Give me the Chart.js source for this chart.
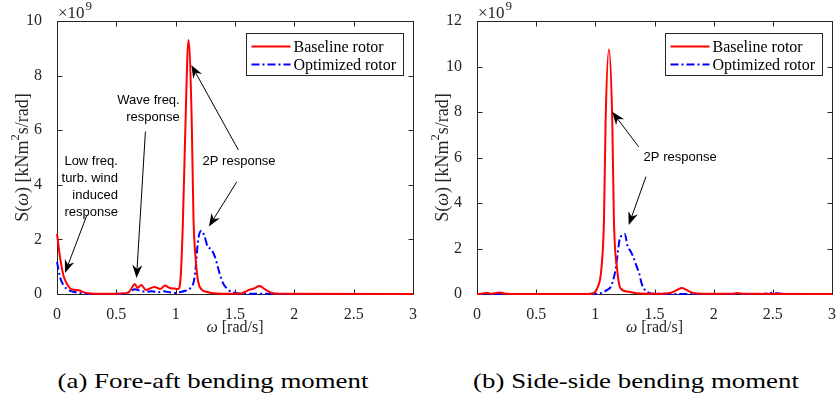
<!DOCTYPE html>
<html>
<head>
<meta charset="utf-8">
<script src="https://cdn.jsdelivr.net/npm/chart.js@4.4.0/dist/chart.umd.min.js"></script>
<style>
html, body { margin: 0; padding: 0; background: #fff; }
body { width: 839px; height: 400px; position: relative; overflow: hidden; }
.panel { position: absolute; top: 0; height: 340px; }
#panelA { left: 0; width: 420px; }
#panelB { left: 420px; width: 419px; }
.caption { position: absolute; top: 368px; font-family: "Liberation Serif", serif; font-size: 22px; color: #000; white-space: nowrap; transform: translateX(-50%) scaleX(1.22); }
</style>
</head>
<body>
<div class="panel" id="panelA"><canvas id="chartA"></canvas></div>
<div class="panel" id="panelB"><canvas id="chartB"></canvas></div>
<div class="caption" style="left:213px">(a) Fore-aft bending moment</div>
<div class="caption" style="left:636px">(b) Side-side bending moment</div>
<script>
// spectra, values in 1e9 kNm^2 s/rad
var seriesNames = ["Baseline rotor", "Optimized rotor"];

var foreAftBaseW = [0, 0.025, 0.053, 0.08, 0.12, 0.19, 0.22, 0.28, 0.35, 0.5, 0.6, 0.63, 0.655, 0.68, 0.71, 0.75, 0.82, 0.87, 0.91, 0.95, 0.99, 1.02, 1.04, 1.06, 1.08, 1.108, 1.135, 1.15, 1.17, 1.19, 1.22, 1.26, 1.3, 1.4, 1.55, 1.62, 1.66, 1.706, 1.76, 1.82, 1.9, 3.0];
var foreAftBaseS = [2.2, 1.37, 0.7, 0.4, 0.18, 0.13, 0.07, 0.02, 0.01, 0.01, 0.05, 0.22, 0.37, 0.22, 0.33, 0.15, 0.26, 0.18, 0.31, 0.22, 0.2, 0.18, 0.5, 2.5, 5.8, 9.3, 6.4, 2.8, 1.2, 0.45, 0.16, 0.08, 0.04, 0.01, 0.02, 0.15, 0.2, 0.29, 0.15, 0.03, 0.01, 0.0];

var foreAftOptW = [0, 0.025, 0.053, 0.095, 0.15, 0.2, 0.25, 0.3, 0.55, 0.61, 0.655, 0.7, 0.75, 0.8, 0.85, 0.9, 0.95, 1.0, 1.05, 1.08, 1.12, 1.16, 1.19, 1.216, 1.244, 1.27, 1.3, 1.33, 1.355, 1.37, 1.4, 1.43, 1.47, 1.55, 3.0];
var foreAftOptS = [1.18, 0.63, 0.33, 0.15, 0.07, 0.03, 0.01, 0.0, 0.01, 0.07, 0.17, 0.12, 0.08, 0.1, 0.06, 0.1, 0.06, 0.04, 0.08, 0.12, 0.2, 0.62, 2.0, 2.32, 2.1, 1.73, 1.64, 1.37, 1.0, 0.76, 0.39, 0.21, 0.08, 0.01, 0.0];

var sideBaseW = [0, 0.05, 0.08, 0.12, 0.17, 0.2, 0.23, 0.3, 0.95, 0.99, 1.02, 1.05, 1.073, 1.087, 1.115, 1.143, 1.157, 1.185, 1.213, 1.28, 1.35, 1.5, 1.6, 1.65, 1.7, 1.73, 1.77, 1.82, 1.9, 2.15, 2.2, 2.25, 3.0];
var sideBaseS = [0.0, 0.02, 0.06, 0.01, 0.05, 0.07, 0.02, 0.0, 0.0, 0.05, 0.3, 1.05, 3.25, 7.65, 10.75, 7.65, 3.25, 1.05, 0.25, 0.1, 0.03, 0.01, 0.02, 0.08, 0.2, 0.26, 0.18, 0.06, 0.01, 0.01, 0.04, 0.01, 0.0];

var sideOptW = [0, 0.5, 1.0, 1.05, 1.1, 1.13, 1.17, 1.2, 1.21, 1.235, 1.25, 1.27, 1.3, 1.32, 1.35, 1.37, 1.39, 1.42, 1.46, 1.5, 2.4, 2.5, 2.6, 3.0];
var sideOptS = [0, 0, 0.01, 0.05, 0.18, 0.32, 1.05, 2.24, 2.52, 2.56, 2.64, 2.15, 1.86, 1.64, 1.2, 0.92, 0.48, 0.17, 0.04, 0.01, 0.0, 0.05, 0.0, 0.0];

var foreAftYTicks = [0, 2, 4, 6, 8, 10];
var sideYTicks = [0, 2, 4, 6, 8, 10, 12];
var omegaMax = 3;

var frameColor = "#262626";
var serif = '"Liberation Serif", "Times New Roman", serif';
var sans = '"Liberation Sans", Arial, sans-serif';

function toPoints(w, s) {
  var pts = [];
  for (var i = 0; i < w.length; i++) pts.push({ x: w[i], y: s[i] });
  return pts;
}

// text with italic / superscript pieces, centered on (0,0) of the current transform
function drawRich(ctx, parts, size) {
  var total = 0, i;
  for (i = 0; i < parts.length; i++) {
    ctx.font = (parts[i].it ? "italic " : "") + (parts[i].sup ? size * 0.7 : size) + "px " + serif;
    parts[i].w = ctx.measureText(parts[i].t).width;
    total += parts[i].w;
  }
  var x = -total / 2;
  ctx.textAlign = "left";
  ctx.textBaseline = "middle";
  for (i = 0; i < parts.length; i++) {
    ctx.font = (parts[i].it ? "italic " : "") + (parts[i].sup ? size * 0.7 : size) + "px " + serif;
    ctx.fillText(parts[i].t, x, parts[i].sup ? -size * 0.38 : 0);
    x += parts[i].w;
  }
}

function drawArrow(ctx, x1, y1, x2, y2) {
  var ang = Math.atan2(y2 - y1, x2 - x1);
  var c = Math.cos(ang), s = Math.sin(ang);
  var len = 13, half = 5, notch = 9;
  ctx.beginPath();
  ctx.moveTo(x1, y1);
  ctx.lineTo(x2 - c * notch, y2 - s * notch);
  ctx.stroke();
  ctx.beginPath();
  ctx.moveTo(x2, y2);
  ctx.lineTo(x2 - c * len - s * half, y2 - s * len + c * half);
  ctx.lineTo(x2 - c * notch, y2 - s * notch);
  ctx.lineTo(x2 - c * len + s * half, y2 - s * len - c * half);
  ctx.closePath();
  ctx.fill();
}

function makeDecor(notes, arrows) {
  return {
    id: "decor",
    beforeDatasetsDraw: function(chart) {
      var ctx = chart.ctx, a = chart.chartArea, xs = chart.scales.x, ys = chart.scales.y;
      var l = Math.round(a.left) + 0.5, t = Math.round(a.top) + 0.5;
      var r = Math.round(a.right) + 0.5, b = Math.round(a.bottom) + 0.5;
      ctx.save();
      ctx.strokeStyle = frameColor;
      ctx.lineWidth = 1;
      ctx.strokeRect(l, t, r - l, b - t);
      ctx.beginPath();
      xs.ticks.forEach(function(tk) {
        var px = Math.round(xs.getPixelForValue(tk.value)) + 0.5;
        ctx.moveTo(px, b); ctx.lineTo(px, b - 5);
        ctx.moveTo(px, t); ctx.lineTo(px, t + 5);
      });
      ys.ticks.forEach(function(tk) {
        var py = Math.round(ys.getPixelForValue(tk.value)) + 0.5;
        ctx.moveTo(l, py); ctx.lineTo(l + 5, py);
        ctx.moveTo(r, py); ctx.lineTo(r - 5, py);
      });
      ctx.stroke();

      // axis titles and exponent
      ctx.fillStyle = frameColor;
      ctx.save();
      ctx.translate(23, (a.top + a.bottom) / 2);
      ctx.rotate(-Math.PI / 2);
      drawRich(ctx, [{ t: "S(" }, { t: "ω", it: true }, { t: ") [kNm" }, { t: "2", sup: true }, { t: "s/rad]" }], 18);
      ctx.restore();
      ctx.save();
      ctx.translate((a.left + a.right) / 2, 328);
      drawRich(ctx, [{ t: "ω", it: true }, { t: " [rad/s]" }], 16);
      ctx.restore();
      ctx.font = "17px " + serif;
      ctx.textAlign = "left";
      ctx.textBaseline = "middle";
      ctx.fillText("×10", a.left + 1, 14);
      var w10 = ctx.measureText("×10").width;
      ctx.font = "13px " + serif;
      ctx.fillText("9", a.left + 2 + w10, 7);
      ctx.restore();
    },
    afterDatasetsDraw: function(chart) {
      var ctx = chart.ctx, a = chart.chartArea, xs = chart.scales.x, ys = chart.scales.y;
      ctx.save();
      // legend box
      ctx.font = "16px " + serif;
      var tw = 0;
      chart.data.datasets.forEach(function(ds) { tw = Math.max(tw, ctx.measureText(ds.label).width); });
      var bw = Math.round(48 + tw + 6), bh = 42;
      var bx = Math.round(a.right - 10 - bw) + 0.5, by = Math.round(a.top + 12) + 0.5;
      ctx.fillStyle = "#fff";
      ctx.fillRect(bx, by, bw, bh);
      ctx.strokeStyle = frameColor;
      ctx.lineWidth = 1;
      ctx.strokeRect(bx, by, bw, bh);
      chart.data.datasets.forEach(function(ds, i) {
        var ly = by + 13 + i * 18;
        ctx.strokeStyle = ds.borderColor;
        ctx.lineWidth = ds.borderWidth;
        ctx.setLineDash(ds.borderDash || []);
        ctx.beginPath();
        ctx.moveTo(bx + 5, ly); ctx.lineTo(bx + 44, ly);
        ctx.stroke();
        ctx.setLineDash([]);
        ctx.fillStyle = "#000";
        ctx.textAlign = "left";
        ctx.textBaseline = "middle";
        ctx.fillText(ds.label, bx + 47, ly + 1);
      });

      // annotations
      ctx.fillStyle = "#000";
      ctx.strokeStyle = "#000";
      ctx.lineWidth = 1;
      ctx.font = "13px " + sans;
      ctx.textBaseline = "middle";
      notes.forEach(function(n) {
        var px = xs.getPixelForValue(n.x), py = ys.getPixelForValue(n.y);
        ctx.textAlign = n.align;
        n.lines.forEach(function(line, k) { ctx.fillText(line, px, py + k * 17); });
      });
      arrows.forEach(function(ar) {
        drawArrow(ctx, xs.getPixelForValue(ar[0]), ys.getPixelForValue(ar[1]),
                  xs.getPixelForValue(ar[2]), ys.getPixelForValue(ar[3]));
      });
      ctx.restore();
    }
  };
}

function buildChart(canvasId, baseW, baseS, optW, optS, yTicks, padRight, notes, arrows) {
  return new Chart(document.getElementById(canvasId), {
    type: "line",
    data: {
      datasets: [{
        label: seriesNames[0],
        data: toPoints(baseW, baseS),
        borderColor: "#ff0000",
        borderWidth: 2,
        pointRadius: 0,
        cubicInterpolationMode: "monotone",
        clip: false
      }, {
        label: seriesNames[1],
        data: toPoints(optW, optS),
        borderColor: "#0000ff",
        borderWidth: 2,
        borderDash: [8, 3, 2, 3],
        pointRadius: 0,
        cubicInterpolationMode: "monotone",
        clip: false
      }]
    },
    options: {
      responsive: true,
      maintainAspectRatio: false,
      animation: false,
      layout: { padding: { left: 0, right: padRight, top: 21, bottom: 0 } },
      plugins: { legend: { display: false }, tooltip: { enabled: false } },
      scales: {
        x: {
          type: "linear",
          min: 0,
          max: omegaMax,
          grid: { display: false },
          border: { display: false },
          ticks: {
            stepSize: 0.5, padding: 3, color: frameColor, font: { family: serif, size: 16 }, maxRotation: 0,
            callback: function(v) { return String(v); }
          },
          afterFit: function(s) { s.height = 46; }
        },
        y: {
          min: yTicks[0],
          max: yTicks[yTicks.length - 1],
          grid: { display: false },
          border: { display: false },
          ticks: { stepSize: yTicks[1] - yTicks[0], padding: 7, color: frameColor, font: { family: serif, size: 16 } },
          afterFit: function(s) { s.width = 57; }
        }
      }
    },
    plugins: [makeDecor(notes, arrows)]
  });
}

buildChart("chartA", foreAftBaseW, foreAftBaseS, foreAftOptW, foreAftOptS, foreAftYTicks, 6,
  [
    { x: 0.513, y: 4.84, align: "right", lines: ["Low freq.", "turb. wind", "induced", "response"] },
    { x: 1.034, y: 7.1, align: "right", lines: ["Wave freq.", "response"] },
    { x: 1.227, y: 4.85, align: "left", lines: ["2P response"] }
  ],
  [
    [0.252, 2.89, 0.067, 0.77],
    [0.745, 5.95, 0.67, 0.59],
    [1.529, 5.27, 1.132, 8.39],
    [1.515, 4.11, 1.28, 2.47]
  ]);

buildChart("chartB", sideBaseW, sideBaseS, sideOptW, sideOptS, sideYTicks, 4,
  [
    { x: 1.408, y: 6.02, align: "left", lines: ["2P response"] }
  ],
  [
    [1.366, 6.47, 1.143, 8.01],
    [1.428, 5.16, 1.282, 3.03]
  ]);
</script>
</body>
</html>
